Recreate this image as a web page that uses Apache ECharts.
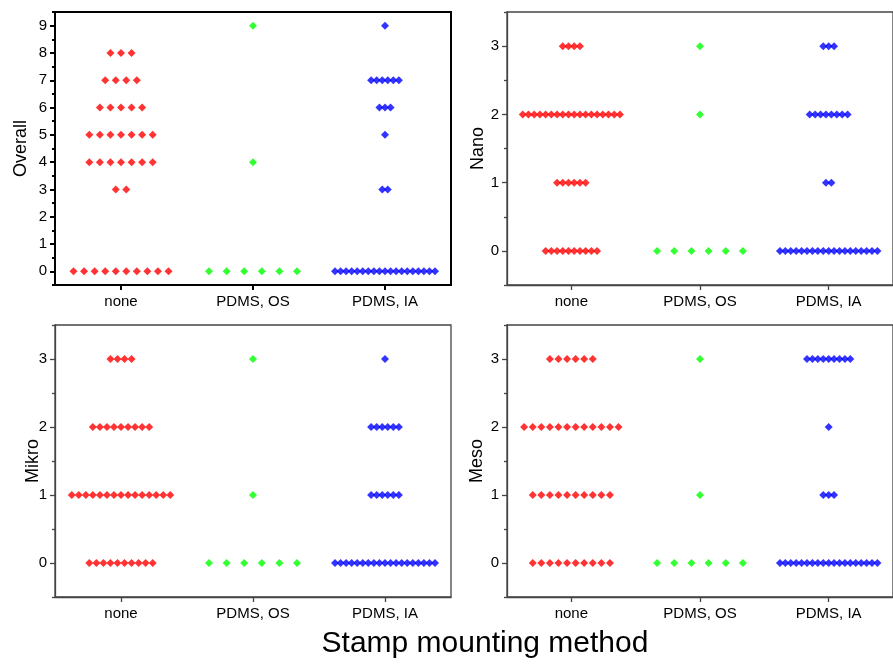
<!DOCTYPE html>
<html>
<head>
<meta charset="utf-8">
<script src="https://cdn.jsdelivr.net/npm/echarts@6/dist/echarts.min.js"></script>
<style>
    html, body { margin: 0; padding: 0; background: #fff; }
    #chart { width: 893px; height: 665px; }
</style>
</head>
<body>
<div id="chart"></div>
<script>
let categories = ['none', 'PDMS, OS', 'PDMS, IA'];
let colors = ['#ff0000', '#00ff00', '#0000ff'];
let panelNames = ['Overall', 'Nano', 'Mikro', 'Meso'];
// how many samples got each score (array index = score)
let overallNone = [10, 0, 0, 2, 7, 7, 5, 4, 3, 0];
let overallOS   = [6, 0, 0, 0, 1, 0, 0, 0, 0, 1];
let overallIA   = [19, 0, 0, 2, 0, 1, 3, 6, 0, 1];
let nanoNone  = [10, 6, 18, 4];
let nanoOS    = [6, 0, 1, 1];
let nanoIA    = [19, 2, 8, 3];
let mikroNone = [10, 15, 9, 4];
let mikroOS   = [6, 1, 0, 1];
let mikroIA   = [19, 6, 6, 1];
let mesoNone  = [10, 10, 12, 6];
let mesoOS    = [6, 1, 0, 1];
let mesoIA    = [19, 3, 1, 9];
let overallTicks = [0, 1, 2, 3, 4, 5, 6, 7, 8, 9];
let smallTicks = [0, 1, 2, 3];

let panelData = [
    [overallNone, overallOS, overallIA],
    [nanoNone, nanoOS, nanoIA],
    [mikroNone, mikroOS, mikroIA],
    [mesoNone, mesoOS, mesoIA]
];
let panelTicks = [overallTicks, smallTicks, smallTicks, smallTicks];
let boxes = [
    {left: 55, top: 12, width: 396, height: 273},
    {left: 507, top: 12, width: 396, height: 273},
    {left: 55, top: 325, width: 396, height: 272},
    {left: 507, top: 325, width: 396, height: 272}
];
let nameGaps = [25, 20, 13, 21];

// spread equal scores side by side like Origin's beeswarm
function swarm(counts, catIndex) {
    let nmax = Math.max.apply(null, counts);
    let step = 0.8 / nmax;
    let pts = [];
    counts.forEach(function (n, score) {
        for (let i = 0; i < n; i++) {
            pts.push([catIndex + 1 + (i - (n - 1) / 2) * step, score]);
        }
    });
    return pts;
}

let grid = [], xAxis = [], yAxis = [], series = [];
let txt = {color: '#000', fontFamily: 'Liberation Sans, Arial', fontSize: 15};
for (let p = 0; p < 4; p++) {
    let bold = p === 0;
    let lineColor = bold ? '#000' : '#444';
    let lineW = bold ? 2 : 1.3;
    let ticks = panelTicks[p];
    let ymax = ticks[ticks.length - 1] + 0.5;
    let minor = ticks.map(function (t) { return t + 0.5; });
    minor.unshift(-0.5);
    grid.push(Object.assign({show: true, borderColor: lineColor, borderWidth: lineW}, boxes[p]));
    xAxis.push({
        type: 'value', gridIndex: p, min: 0.5, max: 3.5,
        splitLine: {show: false},
        axisLine: {onZero: false, lineStyle: {color: lineColor, width: lineW}},
        axisTick: {customValues: [1, 2, 3], length: 5, lineStyle: {color: lineColor, width: lineW}},
        axisLabel: Object.assign({
            customValues: [1, 2, 3], margin: 9,
            formatter: function (v) { return categories[Math.round(v) - 1]; }
        }, txt)
    });
    yAxis.push({
        type: 'value', gridIndex: p, min: -0.5, max: ymax,
        name: panelNames[p], nameLocation: 'middle', nameGap: nameGaps[p], nameMoveOverlap: false,
        nameTextStyle: {color: '#000', fontFamily: 'Liberation Sans, Arial', fontSize: 18},
        splitLine: {show: false},
        axisLine: {onZero: false, lineStyle: {color: lineColor, width: lineW}},
        axisTick: {customValues: ticks, length: 5, lineStyle: {color: lineColor, width: lineW}},
        axisLabel: Object.assign({customValues: ticks, margin: 8}, txt)
    });
    // second axis only for the short half-step ticks
    yAxis.push({
        type: 'value', gridIndex: p, min: -0.5, max: ymax, position: 'left',
        splitLine: {show: false},
        axisLine: {show: false, onZero: false},
        axisLabel: {show: false},
        axisTick: {customValues: minor, length: 3, lineStyle: {color: lineColor, width: lineW}}
    });
    for (let c = 0; c < 3; c++) {
        series.push({
            type: 'scatter', xAxisIndex: p, yAxisIndex: p * 2,
            symbol: 'diamond', symbolSize: 8,
            itemStyle: {color: colors[c]},
            data: swarm(panelData[p][c], c)
        });
    }
}

let option = {
    animation: false,
    grid: grid,
    xAxis: xAxis,
    yAxis: yAxis,
    series: series,
    graphic: [{
        type: 'text', x: 485, y: 629,
        style: {text: 'Stamp mounting method', fill: '#000', align: 'center', font: '30px Liberation Sans, Arial'}
    }]
};
let chart = echarts.init(document.getElementById('chart'));
chart.setOption(option);
</script>
</body>
</html>
